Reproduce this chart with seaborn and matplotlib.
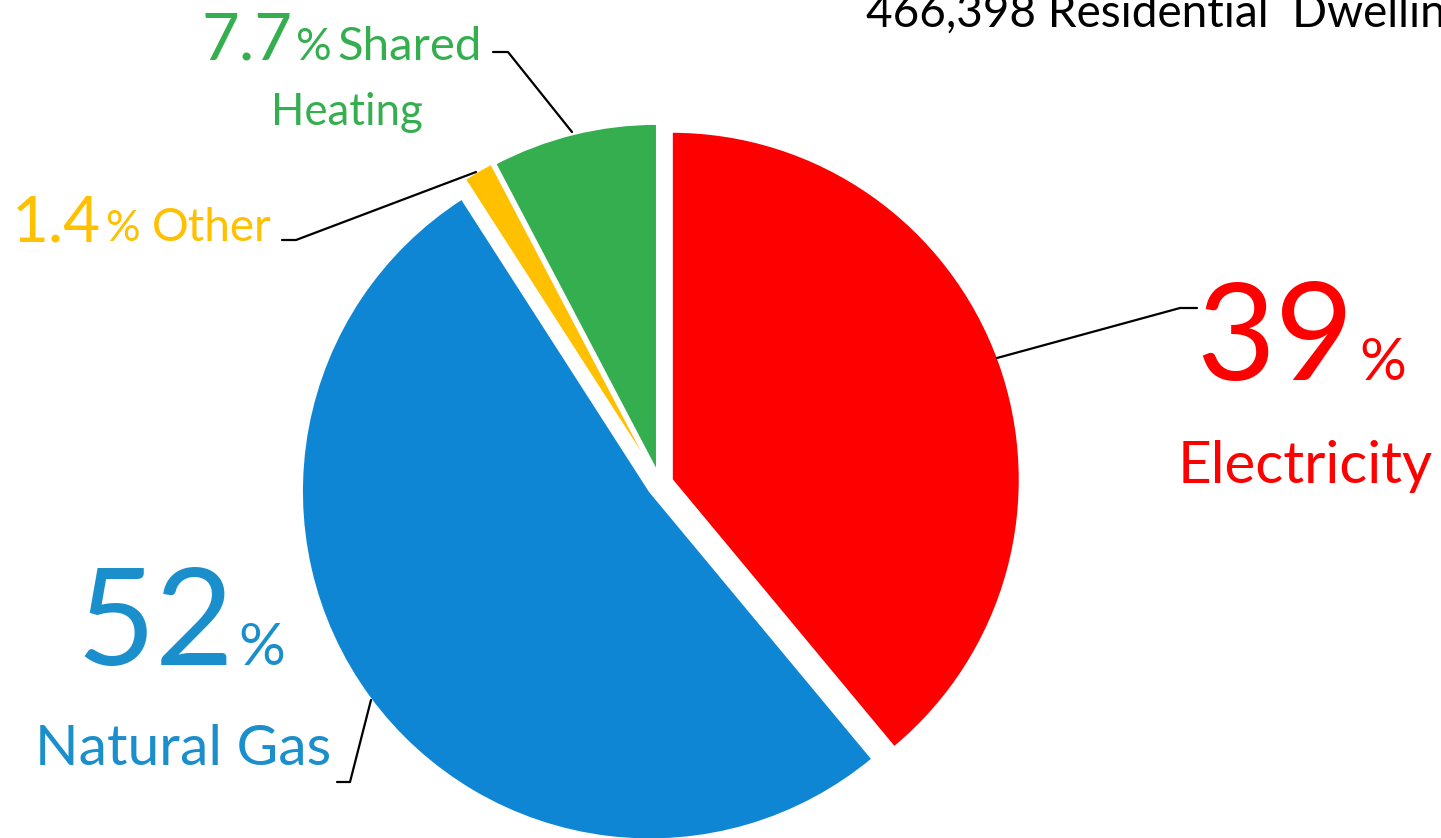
import matplotlib
matplotlib.use("Agg")
import matplotlib.pyplot as plt
import seaborn as sns

# data
sources = ["Electricity", "Natural Gas", "Other", "Shared Heating"]
shares = [39, 52, 1.4, 7.7]
share_labels = ["39", "52", "1.4", "7.7"]
colors = ["#FF0000", "#0E86D4", "#FFC000", "#34AE4F"]
text_colors = ["#FF0000", "#1B8FCB", "#FFC000", "#34AE4F"]
title = "466,398 Residential  Dwellings"

sns.set_theme(style="white")
plt.rcParams["font.family"] = ["Lato", "DejaVu Sans"]

W, H = 1441, 838
fig = plt.figure(figsize=(W / 100, H / 100), dpi=100)
ax = fig.add_axes([0, 0, 1, 1])

ax.pie(shares, colors=colors, startangle=90, counterclock=False,
       explode=[0.036, 0.036, 0.04, 0.036], radius=1.0,
       wedgeprops=dict(edgecolor="white", linewidth=1.5))

# pie centre at (660, 484) px, radius 348 px
R = 348.0
cx, cy = 660.0, 484.0
ax.set_xlim(-cx / R, (W - cx) / R)
ax.set_ylim(-(H - cy) / R, cy / R)
ax.axis("off")


def fx(px):
    return px / W


def fy(py):
    return 1 - py / H


# big number (right-aligned) + small %
def num_label(num_end, base, num, numsize, pct_x, pctsize, color):
    fig.text(fx(num_end), fy(base), num, fontsize=numsize, color=color,
             ha="right", va="baseline")
    fig.text(fx(pct_x), fy(base), "%", fontsize=pctsize, color=color,
             ha="left", va="baseline")


# Electricity
num_label(1354, 380, share_labels[0], 98, 1359, 42, text_colors[0])
fig.text(fx(1305), fy(483), sources[0], fontsize=42, color=text_colors[0],
         ha="center", va="baseline")

# Natural Gas
num_label(234, 665, share_labels[1], 98, 238, 42, text_colors[1])
fig.text(fx(183), fy(765), sources[1], fontsize=41, color=text_colors[1],
         ha="center", va="baseline")

# Other
num_label(101, 241, share_labels[2], 46, 105, 31, text_colors[2])
fig.text(fx(152), fy(241), sources[2], fontsize=33, color=text_colors[2],
         ha="left", va="baseline")

# Shared Heating
num_label(293, 60, share_labels[3], 47, 296, 32, text_colors[3])
fig.text(fx(337), fy(60), "Shared", fontsize=34, color=text_colors[3],
         ha="left", va="baseline")
fig.text(fx(347), fy(125), "Heating", fontsize=31.5, color=text_colors[3],
         ha="center", va="baseline")

# leader lines
leaders = [
    [(997, 358), (1180, 308), (1197, 308)],
    [(371, 700), (350, 782), (337, 782)],
    [(572, 132), (508, 52), (493, 52)],
    [(476, 172), (296, 240), (282, 240)],
]
for pts in leaders:
    fig.add_artist(plt.Line2D([fx(p[0]) for p in pts], [fy(p[1]) for p in pts],
                              color="black", linewidth=1.6))

fig.text(fx(866), fy(27), title, fontsize=33, color="black",
         ha="left", va="baseline")

fig.savefig("out.png", dpi=100)
